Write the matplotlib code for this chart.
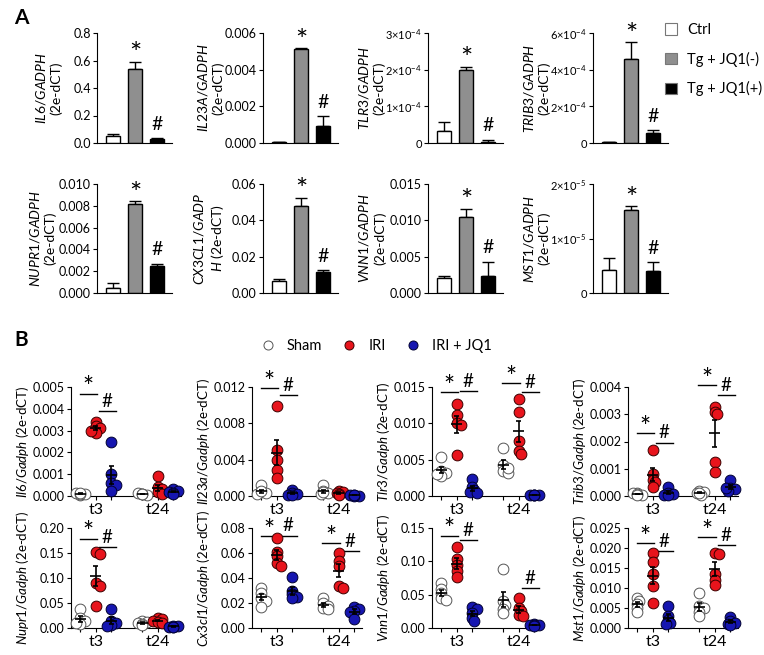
import numpy as np
import matplotlib.pyplot as plt
from matplotlib.patches import Patch
from matplotlib.lines import Line2D

plt.rcParams['font.family'] = ['Lato', 'DejaVu Sans']
plt.rcParams['mathtext.fontset'] = 'custom'
plt.rcParams['mathtext.rm'] = 'Lato'
plt.rcParams['mathtext.it'] = 'Lato:italic'
plt.rcParams['mathtext.bf'] = 'Lato:bold'
plt.rcParams['axes.linewidth'] = 0.8

# ---------------- panel A: bars, mean + SEM
groups_a = ['Ctrl', 'Tg + JQ1(-)', 'Tg + JQ1(+)']
bar_colors = ['white', '#8f8f8f', 'black']

il6_a = [0.050, 0.535, 0.030]
il6_a_err = [0.012, 0.055, 0.004]
il23a_a = [0.00005, 0.00515, 0.00095]
il23a_a_err = [0.00001, 0.00002, 0.0005]
tlr3_a = [3.3e-5, 2.0e-4, 0.3e-5]
tlr3_a_err = [2.5e-5, 0.08e-4, 0.6e-5]
trib3_a = [0.05e-4, 4.6e-4, 0.55e-4]
trib3_a_err = [0.01e-4, 0.9e-4, 0.15e-4]
nupr1_a = [0.0005, 0.0082, 0.0025]
nupr1_a_err = [0.0004, 0.0002, 0.0002]
cx3cl1_a = [0.0065, 0.048, 0.0115]
cx3cl1_a_err = [0.0013, 0.0045, 0.0012]
vnn1_a = [0.0020, 0.0104, 0.0024]
vnn1_a_err = [0.0004, 0.0012, 0.0019]
mst1_a = [0.43e-5, 1.53e-5, 0.41e-5]
mst1_a_err = [0.22e-5, 0.06e-5, 0.15e-5]

il6_a_ticks = [0, 0.2, 0.4, 0.6, 0.8]
il6_a_ticklabels = ['0.0', '0.2', '0.4', '0.6', '0.8']
il23a_a_ticks = [0, 0.002, 0.004, 0.006]
il23a_a_ticklabels = ['0.000', '0.002', '0.004', '0.006']
tlr3_a_ticks = [0, 1e-4, 2e-4, 3e-4]
tlr3_a_ticklabels = ['0', r'$1{\times}10^{-4}$', r'$2{\times}10^{-4}$', r'$3{\times}10^{-4}$']
trib3_a_ticks = [0, 2e-4, 4e-4, 6e-4]
trib3_a_ticklabels = ['0', r'$2{\times}10^{-4}$', r'$4{\times}10^{-4}$', r'$6{\times}10^{-4}$']
nupr1_a_ticks = [0, 0.002, 0.004, 0.006, 0.008, 0.010]
nupr1_a_ticklabels = ['0.000', '0.002', '0.004', '0.006', '0.008', '0.010']
cx3cl1_a_ticks = [0, 0.02, 0.04, 0.06]
cx3cl1_a_ticklabels = ['0.00', '0.02', '0.04', '0.06']
vnn1_a_ticks = [0, 0.005, 0.010, 0.015]
vnn1_a_ticklabels = ['0.000', '0.005', '0.010', '0.015']
mst1_a_ticks = [0, 1e-5, 2e-5]
mst1_a_ticklabels = ['0', r'$1{\times}10^{-5}$', r'$2{\times}10^{-5}$']

il6_a_label = r'$\mathit{IL6/GADPH}$' + '\n(2e-dCT)'
il23a_a_label = r'$\mathit{IL23A/GADPH}$' + '\n(2e-dCT)'
tlr3_a_label = r'$\mathit{TLR3/GADPH}$' + '\n(2e-dCT)'
trib3_a_label = r'$\mathit{TRIB3/GADPH}$' + '\n(2e-dCT)'
nupr1_a_label = r'$\mathit{NUPR1/GADPH}$' + '\n(2e-dCT)'
cx3cl1_a_label = r'$\mathit{CX3CL1/GADP}$' + '\n' + r'$\mathit{H}$ (2e-dCT)'
vnn1_a_label = r'$\mathit{VNN1/GADPH}$' + '\n(2e-dCT)'
mst1_a_label = r'$\mathit{MST1/GADPH}$' + '\n(2e-dCT)'

# ---------------- panel B: individual mice, 5 per group
# order: t3 Sham, t3 IRI, t3 IRI+JQ1, t24 Sham, t24 IRI, t24 IRI+JQ1
groups_b = ['Sham', 'IRI', 'IRI + JQ1']
times_b = ['t3', 't24']
b_colors = ['white', '#e8141c', '#1616b0']
b_edges = ['#555555', '#3a0000', '#000030']

il6_b = [[0.00005, 0.0001, 0.00015, 0.00008, 0.00012],
         [0.0034, 0.0032, 0.0031, 0.0029, 0.0030],
         [0.0025, 0.0010, 0.0006, 0.0005, 0.00025],
         [0.0001, 0.00005, 0.00012, 0.00008, 0.0001],
         [0.0009, 0.0004, 0.0003, 0.0002, 0.0001],
         [0.0003, 0.00025, 0.0002, 0.00015, 0.0001]]
il23a_b = [[0.0012, 0.0004, 0.0003, 0.0002, 0.0005],
           [0.0099, 0.0051, 0.0040, 0.0029, 0.0020],
           [0.0007, 0.0003, 0.0002, 0.0001, 0.0001],
           [0.0012, 0.0005, 0.0003, 0.0002, 0.0004],
           [0.0006, 0.0004, 0.0003, 0.0002, 0.0001],
           [0.0001, 0.00005, 0.0001, 0.00005, 0.0001]]
tlr3_b = [[0.0053, 0.0035, 0.0032, 0.0028, 0.0030],
          [0.0127, 0.0111, 0.0101, 0.0098, 0.0056],
          [0.0023, 0.0012, 0.0008, 0.0005, 0.0004],
          [0.0066, 0.0043, 0.0035, 0.0032, 0.0038],
          [0.0133, 0.0115, 0.0076, 0.0062, 0.0058],
          [0.0001, 0.0001, 0.0001, 0.0001, 0.0001]]
trib3_b = [[0.0001, 0.00005, 0.0001, 0.00008, 0.00003],
           [0.0017, 0.0008, 0.0006, 0.0005, 0.00033],
           [0.00033, 0.0001, 0.00008, 0.00005, 0.00003],
           [0.0002, 0.00015, 0.0001, 0.00005, 0.0001],
           [0.00325, 0.0031, 0.0030, 0.00125, 0.00088],
           [0.0006, 0.0003, 0.00025, 0.0002, 0.0003]]
nupr1_b = [[0.038, 0.020, 0.015, 0.008, 0.010],
           [0.153, 0.148, 0.090, 0.085, 0.045],
           [0.039, 0.014, 0.010, 0.006, 0.005],
           [0.015, 0.012, 0.010, 0.008, 0.006],
           [0.020, 0.018, 0.015, 0.012, 0.010],
           [0.005, 0.004, 0.003, 0.002, 0.003]]
cx3cl1_b = [[0.032, 0.028, 0.024, 0.022, 0.017],
            [0.072, 0.061, 0.058, 0.052, 0.050],
            [0.041, 0.030, 0.027, 0.025, 0.024],
            [0.024, 0.020, 0.018, 0.016, 0.015],
            [0.060, 0.054, 0.050, 0.034, 0.032],
            [0.017, 0.015, 0.014, 0.013, 0.007]]
vnn1_b = [[0.068, 0.058, 0.052, 0.045, 0.042],
          [0.122, 0.104, 0.095, 0.085, 0.077],
          [0.032, 0.028, 0.022, 0.015, 0.010],
          [0.088, 0.040, 0.035, 0.028, 0.022],
          [0.045, 0.030, 0.025, 0.020, 0.018],
          [0.006, 0.005, 0.004, 0.004, 0.003]]
mst1_b = [[0.0076, 0.0068, 0.0060, 0.0050, 0.0040],
          [0.0187, 0.0165, 0.0135, 0.0105, 0.0063],
          [0.0056, 0.0030, 0.0020, 0.0012, 0.0010],
          [0.0087, 0.0055, 0.0050, 0.0040, 0.0030],
          [0.0188, 0.0185, 0.0135, 0.0120, 0.0108],
          [0.0028, 0.0018, 0.0012, 0.0010, 0.0008]]

# significance bars: (time index, symbol, height)
il6_sig = [(0, '*', 0.0047), (0, '#', 0.0039)]
il23a_sig = [(0, '*', 0.0119), (0, '#', 0.0111)]
tlr3_sig = [(0, '*', 0.0143), (0, '#', 0.0144), (1, '*', 0.0155), (1, '#', 0.0143)]
trib3_sig = [(0, '*', 0.0023), (0, '#', 0.00196), (1, '*', 0.00407), (1, '#', 0.0037)]
nupr1_sig = [(0, '*', 0.179), (0, '#', 0.162)]
cx3cl1_sig = [(0, '*', 0.0734), (0, '#', 0.074), (1, '*', 0.068), (1, '#', 0.0617)]
vnn1_sig = [(0, '*', 0.1385), (0, '#', 0.1315), (1, '#', 0.060)]
mst1_sig = [(0, '*', 0.02125), (0, '#', 0.0192), (1, '*', 0.02275), (1, '#', 0.0207)]

il6_b_ticks = [0, 0.001, 0.002, 0.003, 0.004, 0.005]
il6_b_ticklabels = ['0.000', '0.001', '0.002', '0.003', '0.004', '0.005']
il23a_b_ticks = [0, 0.004, 0.008, 0.012]
il23a_b_ticklabels = ['0.000', '0.004', '0.008', '0.012']
tlr3_b_ticks = [0, 0.005, 0.010, 0.015]
tlr3_b_ticklabels = ['0.000', '0.005', '0.010', '0.015']
trib3_b_ticks = [0, 0.001, 0.002, 0.003, 0.004]
trib3_b_ticklabels = ['0.000', '0.001', '0.002', '0.003', '0.004']
nupr1_b_ticks = [0, 0.05, 0.10, 0.15, 0.20]
nupr1_b_ticklabels = ['0.00', '0.05', '0.10', '0.15', '0.20']
cx3cl1_b_ticks = [0, 0.02, 0.04, 0.06, 0.08]
cx3cl1_b_ticklabels = ['0.00', '0.02', '0.04', '0.06', '0.08']
vnn1_b_ticks = [0, 0.05, 0.10, 0.15]
vnn1_b_ticklabels = ['0.00', '0.05', '0.10', '0.15']
mst1_b_ticks = [0, 0.005, 0.010, 0.015, 0.020, 0.025]
mst1_b_ticklabels = ['0.000', '0.005', '0.010', '0.015', '0.020', '0.025']

W, H = 764, 655
fig = plt.figure(figsize=(W / 100, H / 100), dpi=100)


def px_axes(left, top, width, height):
    return fig.add_axes([left / W, 1 - (top + height) / H, width / W, height / H])


def bar_panel(ax, vals, errs, ticks, ticklabels, label, lab_x=-0.65):
    x = np.arange(3)
    ax.bar(x, vals, width=0.65, color=bar_colors, edgecolor='black', linewidth=1, zorder=2)
    ax.errorbar(x, vals, yerr=[np.zeros(3), errs], fmt='none', ecolor='black',
                elinewidth=1, capsize=4, capthick=1, zorder=1)
    ax.set_xlim(-0.73, 2.68)
    ax.set_ylim(ticks[0], ticks[-1])
    ax.set_yticks(ticks)
    small = any('times' in t for t in ticklabels)
    ax.set_yticklabels(ticklabels, fontsize=8 if small else 9)
    ax.set_xticks([])
    for s in ['top', 'right']:
        ax.spines[s].set_visible(False)
    ax.tick_params(axis='y', length=3, width=0.8, pad=1.5)
    ax.annotate('*', (1, vals[1] + errs[1]), xytext=(0, -1), textcoords='offset points',
                ha='center', va='baseline', fontsize=21)
    ax.annotate('#', (2, vals[2] + errs[2]), xytext=(0, 6), textcoords='offset points',
                ha='center', va='baseline', fontsize=14)
    ax.text(lab_x, 0.5, label, transform=ax.transAxes, rotation=90, ha='center',
            va='center', multialignment='center', fontsize=10)


def swarm(ax, xc, vals, diam):
    pts = ax.transData.transform(np.column_stack([np.full(len(vals), xc), vals]))
    placed = []
    out = []
    for (px, py) in pts:
        best = px
        for k in [0, 1, -1, 2, -2]:
            cand = px + k * diam * 0.22
            if all((cand - qx) ** 2 + (py - qy) ** 2 >= (0.35 * diam) ** 2 for qx, qy in placed):
                best = cand
                break
        placed.append((best, py))
        out.append(ax.transData.inverted().transform((best, py))[0])
    return np.array(out)


def dot_panel(ax, data, sig, ticks, ticklabels, gene):
    pos = [0, 1, 2, 4, 5, 6]
    ax.set_xlim(-0.6, 6.5)
    ax.set_ylim(ticks[0], ticks[-1])
    ax.set_yticks(ticks)
    ax.set_yticklabels(ticklabels, fontsize=9)
    ax.set_xticks(pos)
    ax.set_xticklabels(['', times_b[0], '', '', times_b[1], ''], fontsize=11.5)
    for s in ['top', 'right']:
        ax.spines[s].set_visible(False)
    ax.tick_params(axis='y', length=3, width=0.8, pad=1.5)
    ax.tick_params(axis='x', length=3, width=0.8, pad=2)
    for i, (p, vals) in enumerate(zip(pos, data)):
        vals = np.array(vals)
        xs = swarm(ax, p, vals, 10)
        ax.scatter(xs, vals, s=60, facecolor=b_colors[i % 3], edgecolor=b_edges[i % 3],
                   linewidth=0.7, zorder=3, clip_on=False)
        m = vals.mean()
        se = vals.std(ddof=1) / np.sqrt(len(vals))
        ax.hlines(m, p - 0.35, p + 0.35, color='black', lw=1.2, zorder=4)
        ax.vlines(p, m - se, m + se, color='black', lw=1.2, zorder=4)
        ax.hlines([m - se, m + se], p - 0.17, p + 0.17, color='black', lw=1.2, zorder=4)
    for t, sym, y in sig:
        base = 4 * t
        if sym == '*':
            x0, x1 = base - 0.05, base + 1.05
            off, fs = -2, 19
        else:
            x0, x1 = base + 1.2, base + 2.3
            off, fs = 3, 13.5
        ax.plot([x0, x1], [y, y], color='black', lw=1, clip_on=False)
        ax.annotate(sym, ((x0 + x1) / 2, y), xytext=(0, off), textcoords='offset points',
                    ha='center', va='baseline', fontsize=fs, annotation_clip=False)
    ax.text(-0.44, 0.5, r'$\mathit{' + gene + '}$ (2e-dCT)', transform=ax.transAxes,
            rotation=90, ha='center', va='center', fontsize=9.5)


# panel A
a_lefts = [97, 263, 428, 593]
a_label_x = [[-0.65, -0.70, -0.76, -0.76], [-0.73, -0.72, -0.75, -0.76]]
a_rows = [
    [(il6_a, il6_a_err, il6_a_ticks, il6_a_ticklabels, il6_a_label),
     (il23a_a, il23a_a_err, il23a_a_ticks, il23a_a_ticklabels, il23a_a_label),
     (tlr3_a, tlr3_a_err, tlr3_a_ticks, tlr3_a_ticklabels, tlr3_a_label),
     (trib3_a, trib3_a_err, trib3_a_ticks, trib3_a_ticklabels, trib3_a_label)],
    [(nupr1_a, nupr1_a_err, nupr1_a_ticks, nupr1_a_ticklabels, nupr1_a_label),
     (cx3cl1_a, cx3cl1_a_err, cx3cl1_a_ticks, cx3cl1_a_ticklabels, cx3cl1_a_label),
     (vnn1_a, vnn1_a_err, vnn1_a_ticks, vnn1_a_ticklabels, vnn1_a_label),
     (mst1_a, mst1_a_err, mst1_a_ticks, mst1_a_ticklabels, mst1_a_label)],
]
for (top, h), lxs, row in zip([(33, 110), (184, 109)], a_label_x, a_rows):
    for left, lx, args in zip(a_lefts, lxs, row):
        bar_panel(px_axes(left, top, 75, h), *args, lab_x=lx)

# panel B
b_lefts = [71, 252, 432, 628]
b_rows = [
    [(il6_b, il6_sig, il6_b_ticks, il6_b_ticklabels, 'Il6/Gadph'),
     (il23a_b, il23a_sig, il23a_b_ticks, il23a_b_ticklabels, 'Il23a/Gadph'),
     (tlr3_b, tlr3_sig, tlr3_b_ticks, tlr3_b_ticklabels, 'Tlr3/Gadph'),
     (trib3_b, trib3_sig, trib3_b_ticks, trib3_b_ticklabels, 'Trib3/Gadph')],
    [(nupr1_b, nupr1_sig, nupr1_b_ticks, nupr1_b_ticklabels, 'Nupr1/Gadph'),
     (cx3cl1_b, cx3cl1_sig, cx3cl1_b_ticks, cx3cl1_b_ticklabels, 'Cx3cl1/Gadph'),
     (vnn1_b, vnn1_sig, vnn1_b_ticks, vnn1_b_ticklabels, 'Vnn1/Gadph'),
     (mst1_b, mst1_sig, mst1_b_ticks, mst1_b_ticklabels, 'Mst1/Gadph')],
]
for (top, h), row in zip([(387, 109), (528, 100)], b_rows):
    for left, args in zip(b_lefts, row):
        dot_panel(px_axes(left, top, 110, h), *args)

# legends
handles_a = [Patch(facecolor=c, edgecolor='#777777', linewidth=0.8) for c in bar_colors]
fig.legend(handles_a, groups_a, loc='upper left', bbox_to_anchor=(652 / W, 1 - 10 / H),
           frameon=False, fontsize=10.5, handlelength=0.8, handleheight=0.8,
           labelspacing=1.0, handletextpad=0.7)

handles_b = [Line2D([], [], ls='none', marker='o', markersize=6.5, markerfacecolor=c,
                    markeredgecolor=e, markeredgewidth=0.7)
             for c, e in zip(b_colors, b_edges)]
fig.legend(handles_b, groups_b, loc='center', bbox_to_anchor=(376 / W, 1 - 346 / H),
           ncol=3, frameon=False, fontsize=10.5, handlelength=1.0, handletextpad=0.8,
           columnspacing=1.35)

fig.text(14 / W, 1 - 18 / H, 'A', fontsize=15, fontweight='bold', va='center')
fig.text(14 / W, 1 - 340 / H, 'B', fontsize=15, fontweight='bold', va='center')

fig.savefig('out.png', dpi=100)
